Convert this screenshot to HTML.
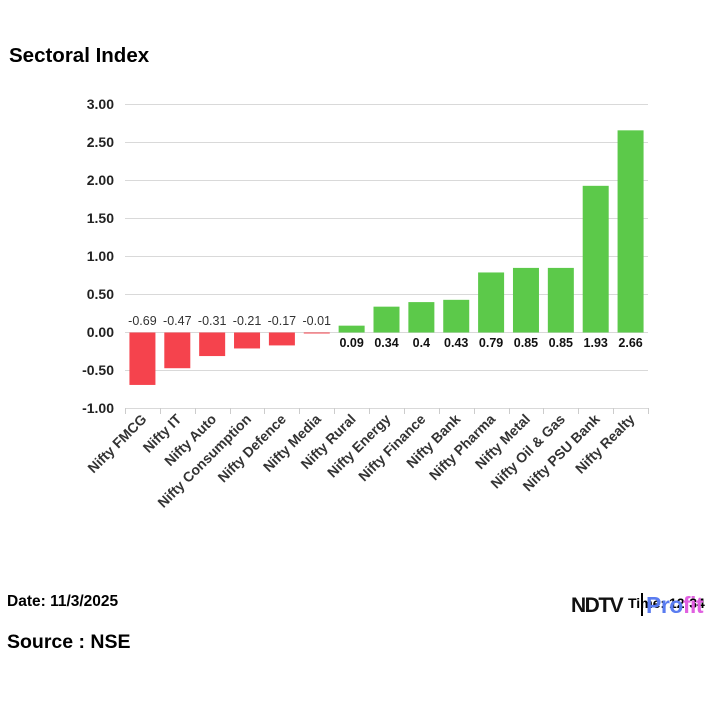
<!DOCTYPE html>
<html><head><meta charset="utf-8"><style>
body{margin:0;background:#fff;}
svg{display:block;font-family:"Liberation Sans",Arial,sans-serif;}
</style></head><body>
<svg width="720" height="720" viewBox="0 0 720 720">
<text x="9" y="62" font-size="20.5" font-weight="bold" fill="#000">Sectoral Index</text>
<g stroke="#d9d9d9" stroke-width="1">
<line x1="125" x2="648" y1="104.5" y2="104.5"/><line x1="125" x2="648" y1="142.5" y2="142.5"/>
<line x1="125" x2="648" y1="180.5" y2="180.5"/><line x1="125" x2="648" y1="218.5" y2="218.5"/>
<line x1="125" x2="648" y1="256.5" y2="256.5"/><line x1="125" x2="648" y1="294.5" y2="294.5"/>
<line x1="125" x2="648" y1="332.5" y2="332.5"/><line x1="125" x2="648" y1="370.5" y2="370.5"/>
<line x1="125" x2="648" y1="408.5" y2="408.5"/>
</g>
<g font-size="14" font-weight="bold" fill="#222" text-anchor="end">
<text x="114" y="109">3.00</text><text x="114" y="147">2.50</text><text x="114" y="185">2.00</text>
<text x="114" y="223">1.50</text><text x="114" y="261">1.00</text><text x="114" y="299">0.50</text>
<text x="114" y="337">0.00</text><text x="114" y="375">-0.50</text><text x="114" y="413">-1.00</text>
</g>
<g id="ticks" stroke="#ccc"></g>
<g id="bars"></g>
<g id="lbl"></g>
<g id="xl" font-size="14" font-weight="bold" fill="#333" text-anchor="end"></g>
<text x="7" y="606" font-size="15.5" font-weight="bold" fill="#000">Date: 11/3/2025</text>
<text x="7" y="648" font-size="19.5" font-weight="bold" fill="#000">Source : NSE</text>
<text x="628" y="608" font-size="14" font-weight="bold" fill="#000">Time: 12:34</text>
<text x="571" y="612" font-size="21" font-weight="bold" fill="#111" letter-spacing="-1.5">NDTV</text>
<line x1="642" y1="593" x2="642" y2="616" stroke="#000" stroke-width="2"/>
<text x="646" y="613" font-size="23" font-weight="bold" fill="#5a7cf0" letter-spacing="-0.5">Pro<tspan fill="#e060e0">fit</tspan></text>
</svg>
<script>
var n=["Nifty FMCG","Nifty IT","Nifty Auto","Nifty Consumption","Nifty Defence","Nifty Media","Nifty Rural","Nifty Energy","Nifty Finance","Nifty Bank","Nifty Pharma","Nifty Metal","Nifty Oil & Gas","Nifty PSU Bank","Nifty Realty"];
var v=[-0.69,-0.47,-0.31,-0.21,-0.17,-0.01,0.09,0.34,0.4,0.43,0.79,0.85,0.85,1.93,2.66];
var NS="http://www.w3.org/2000/svg",w=523/15,z=332.5,s=76;
function el(t,a,p,tx){var e=document.createElementNS(NS,t);for(var k in a)e.setAttribute(k,a[k]);if(tx!=null)e.textContent=tx;document.getElementById(p).appendChild(e);}
for(var i=0;i<=15;i++){var x=Math.round(125+i*w)+0.5;el("line",{x1:x,x2:x,y1:408,y2:414},"ticks");}
for(var i=0;i<15;i++){var c=125+(i+0.5)*w,h=Math.abs(v[i])*s,y=v[i]<0?z:z-h;
el("rect",{x:c-13,y:y,width:26,height:Math.max(h,1),fill:v[i]<0?"#f5434d":"#5cc94a"},"bars");
if(v[i]<0)el("text",{x:c,y:325,"font-size":12.5,fill:"#333","text-anchor":"middle"},"lbl",v[i].toFixed(2));
else el("text",{x:c,y:347,"font-size":12.5,"font-weight":"bold",fill:"#111","text-anchor":"middle"},"lbl",String(v[i]));
el("text",{transform:"translate("+(c+5)+",420) rotate(-45)"},"xl",n[i]);}
</script>
</body></html>
